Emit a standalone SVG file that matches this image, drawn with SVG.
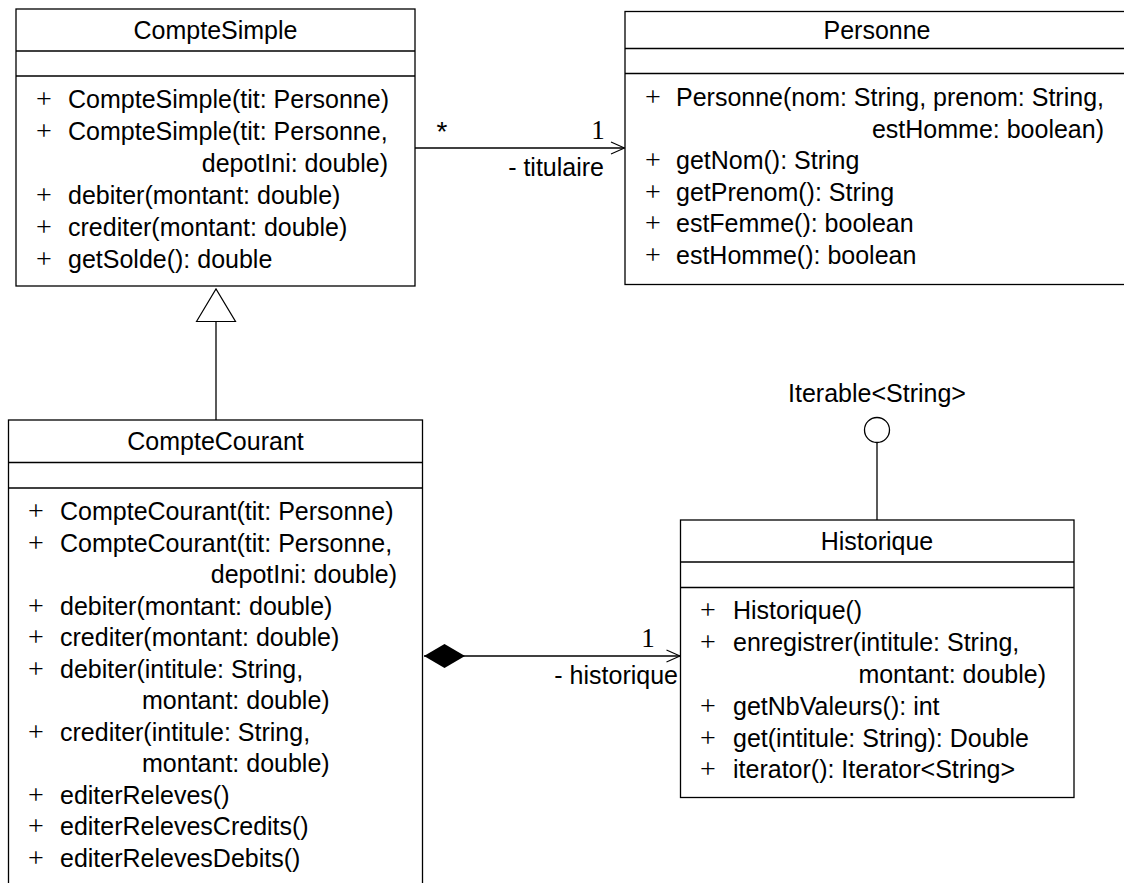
<svg xmlns="http://www.w3.org/2000/svg" width="1124" height="883" viewBox="0 0 1124 883">
<style>
.box{fill:#fff;stroke:#000;stroke-width:1.3}
.dv{stroke:#000;stroke-width:1.3}
.t{font-family:"Liberation Sans",Arial,sans-serif;font-size:25px;fill:#000}
.m{text-anchor:middle}
.e{text-anchor:end}
.p{font-family:"Liberation Serif","Times New Roman",serif;font-size:28px;fill:#000}
.mul{font-family:"Liberation Serif","Times New Roman",serif;font-size:27px;fill:#000;text-anchor:middle}
.ast{font-family:"Liberation Sans",Arial,sans-serif;font-size:28px;fill:#000;text-anchor:middle}
.conn{stroke:#000;stroke-width:1.3;fill:none}
</style>
<defs>
<marker id="openArrow" markerUnits="userSpaceOnUse" markerWidth="16" markerHeight="14" refX="14" refY="6.5" orient="auto" overflow="visible">
<path d="M0.5,0.5 L14,6.5 L0.5,12.5" fill="none" stroke="#000" stroke-width="1.1"/>
</marker>
<marker id="diamond" markerUnits="userSpaceOnUse" markerWidth="42" markerHeight="26" refX="0" refY="12" orient="auto" overflow="visible">
<path d="M0,12 L20.5,0 L41,12 L20.5,24 Z" fill="#000"/>
</marker>
<marker id="triangle" markerUnits="userSpaceOnUse" markerWidth="36" markerHeight="42" refX="33" refY="20" orient="auto" overflow="visible">
<path d="M0.5,0.5 L33,20 L0.5,39.5 Z" fill="#fff" stroke="#000" stroke-width="1.2"/>
</marker>
</defs>
<rect width="1124" height="883" fill="#fff"/>

<g id="connectors">
<line class="conn" x1="415" y1="148" x2="624.5" y2="148" marker-end="url(#openArrow)"/>
<line class="conn" x1="424" y1="656" x2="680" y2="656" marker-start="url(#diamond)" marker-end="url(#openArrow)"/>
<line class="conn" x1="216" y1="420" x2="216" y2="289" marker-end="url(#triangle)"/>
<line class="conn" x1="877" y1="442.5" x2="877" y2="520"/>
<text class="ast" x="442" y="141">*</text>
<text class="mul" x="598" y="139">1</text>
<text class="t e" x="604" y="176">- titulaire</text>
<text class="mul" x="648" y="647">1</text>
<text class="t e" x="678" y="684">- historique</text>
</g>

<g id="CompteSimple">
<rect class="box" x="16" y="9" width="399" height="277"/>
<line class="dv" x1="16" y1="51" x2="415" y2="51"/>
<line class="dv" x1="16" y1="76" x2="415" y2="76"/>
<text class="t m" x="215.5" y="38.5">CompteSimple</text>
<text class="p" x="36" y="108">+</text><text class="t" x="68" y="108">CompteSimple(tit: Personne)</text>
<text class="p" x="36" y="140">+</text><text class="t" x="68" y="140">CompteSimple(tit: Personne,</text>
<text class="t e" x="388" y="172">depotIni: double)</text>
<text class="p" x="36" y="204">+</text><text class="t" x="68" y="204">debiter(montant: double)</text>
<text class="p" x="36" y="236">+</text><text class="t" x="68" y="236">crediter(montant: double)</text>
<text class="p" x="36" y="268">+</text><text class="t" x="68" y="268">getSolde(): double</text>
</g>

<g id="Personne">
<rect class="box" x="625" y="11.5" width="504" height="273"/>
<line class="dv" x1="625" y1="48.5" x2="1129" y2="48.5"/>
<line class="dv" x1="625" y1="73.5" x2="1129" y2="73.5"/>
<text class="t m" x="877" y="38.5">Personne</text>
<text class="p" x="645" y="106">+</text><text class="t" x="676" y="106">Personne(nom: String, prenom: String,</text>
<text class="t e" x="1104" y="137.5">estHomme: boolean)</text>
<text class="p" x="645" y="169">+</text><text class="t" x="676" y="169">getNom(): String</text>
<text class="p" x="645" y="200.5">+</text><text class="t" x="676" y="200.5">getPrenom(): String</text>
<text class="p" x="645" y="232">+</text><text class="t" x="676" y="232">estFemme(): boolean</text>
<text class="p" x="645" y="263.5">+</text><text class="t" x="676" y="263.5">estHomme(): boolean</text>
</g>

<g id="CompteCourant">
<rect class="box" x="8.5" y="420" width="414" height="500"/>
<line class="dv" x1="8.5" y1="462.5" x2="422.5" y2="462.5"/>
<line class="dv" x1="8.5" y1="488" x2="422.5" y2="488"/>
<text class="t m" x="215.5" y="450">CompteCourant</text>
<text class="p" x="28" y="520">+</text><text class="t" x="60" y="520">CompteCourant(tit: Personne)</text>
<text class="p" x="28" y="551.5">+</text><text class="t" x="60" y="551.5">CompteCourant(tit: Personne,</text>
<text class="t e" x="397" y="583">depotIni: double)</text>
<text class="p" x="28" y="614.5">+</text><text class="t" x="60" y="614.5">debiter(montant: double)</text>
<text class="p" x="28" y="646">+</text><text class="t" x="60" y="646">crediter(montant: double)</text>
<text class="p" x="28" y="677.5">+</text><text class="t" x="60" y="677.5">debiter(intitule: String,</text>
<text class="t" x="142" y="709">montant: double)</text>
<text class="p" x="28" y="740.5">+</text><text class="t" x="60" y="740.5">crediter(intitule: String,</text>
<text class="t" x="142" y="772">montant: double)</text>
<text class="p" x="28" y="803.5">+</text><text class="t" x="60" y="803.5">editerReleves()</text>
<text class="p" x="28" y="835">+</text><text class="t" x="60" y="835">editerRelevesCredits()</text>
<text class="p" x="28" y="866.5">+</text><text class="t" x="60" y="866.5">editerRelevesDebits()</text>
</g>

<g id="Historique">
<rect class="box" x="680.5" y="520" width="393.5" height="277.5"/>
<line class="dv" x1="680.5" y1="562" x2="1074" y2="562"/>
<line class="dv" x1="680.5" y1="587.5" x2="1074" y2="587.5"/>
<text class="t m" x="877" y="549.5">Historique</text>
<text class="p" x="700" y="618.5">+</text><text class="t" x="733" y="618.5">Historique()</text>
<text class="p" x="700" y="651">+</text><text class="t" x="733" y="651">enregistrer(intitule: String,</text>
<text class="t e" x="1046" y="682.5">montant: double)</text>
<text class="p" x="700" y="715">+</text><text class="t" x="733" y="715">getNbValeurs(): int</text>
<text class="p" x="700" y="746.5">+</text><text class="t" x="733" y="746.5">get(intitule: String): Double</text>
<text class="p" x="700" y="778">+</text><text class="t" x="733" y="778">iterator(): Iterator&lt;String&gt;</text>
</g>

<g id="IterableString">
<circle cx="877" cy="430" r="12.5" fill="#fff" stroke="#000" stroke-width="1.3"/>
<text class="t m" x="877" y="402">Iterable&lt;String&gt;</text>
</g>
</svg>
